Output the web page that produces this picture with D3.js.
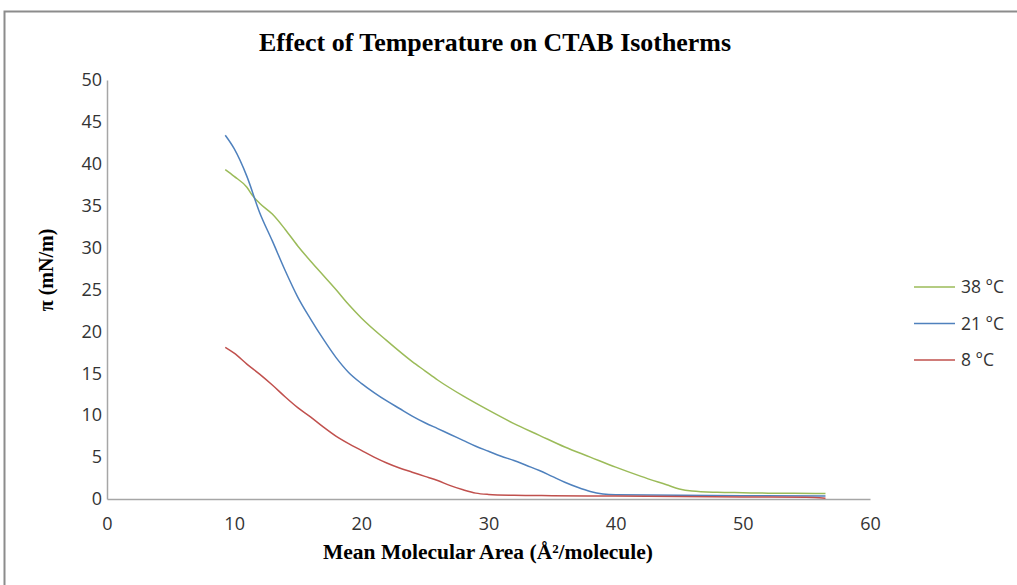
<!DOCTYPE html>
<html>
<head>
<meta charset="utf-8">
<script src="https://cdn.jsdelivr.net/npm/d3@7.9.0/dist/d3.min.js"></script>
<style>
  body { margin: 0; background: #fff; }
  svg { display: block; }
</style>
</head>
<body>
<svg id="chart" width="1017" height="585"></svg>
<script>
// values
const area38 = [9.3, 10, 11, 11.4, 12, 13, 14, 15, 16, 17, 18, 19, 20, 22, 24, 25, 26, 28, 30, 32, 34, 36, 38, 40, 42, 44, 45, 46, 48, 50, 52, 54, 56.5];
const pi38 = [39.3, 38.5, 37.2, 36.3, 35.3, 34.0, 32.2, 30.2, 28.4, 26.7, 25.0, 23.2, 21.6, 18.9, 16.4, 15.3, 14.2, 12.3, 10.6, 9.0, 7.6, 6.2, 5.0, 3.8, 2.7, 1.7, 1.2, 0.95, 0.8, 0.75, 0.7, 0.7, 0.65];

const area21 = [9.3, 10, 11, 12, 13, 14, 15, 16, 17, 18, 19, 20, 21, 22, 23, 24, 25, 26, 27, 28, 29, 30, 31, 32, 33, 34, 35, 36, 37, 38, 39, 40, 45, 50, 56.5];
const pi21 = [43.4, 41.8, 38.5, 34.2, 30.8, 27.3, 24.1, 21.5, 19.1, 16.9, 15.1, 13.8, 12.7, 11.7, 10.8, 9.9, 9.1, 8.4, 7.7, 7.0, 6.3, 5.7, 5.1, 4.6, 4.0, 3.4, 2.7, 2.0, 1.4, 0.9, 0.6, 0.5, 0.45, 0.4, 0.35];

const area8 = [9.3, 10, 11, 12, 13, 14, 15, 16, 17, 18, 19, 20, 21, 22, 23, 24, 25, 26, 27, 28, 29, 30, 32, 35, 40, 45, 50, 55, 56.5];
const pi8 = [18.1, 17.4, 16.1, 14.9, 13.6, 12.2, 10.9, 9.8, 8.6, 7.5, 6.6, 5.8, 5.0, 4.3, 3.7, 3.2, 2.7, 2.2, 1.6, 1.1, 0.7, 0.55, 0.45, 0.4, 0.35, 0.3, 0.25, 0.2, 0.1];

const seriesNames = ["38 °C", "21 °C", "8 °C"];
const seriesColors = ["#9bbb59", "#4f81bd", "#c0504d"];
const xTicks = [0, 10, 20, 30, 40, 50, 60];
const yTicks = [0, 5, 10, 15, 20, 25, 30, 35, 40, 45, 50];

const series = [
  { name: seriesNames[0], color: seriesColors[0], values: area38.map((a, i) => [a, pi38[i]]) },
  { name: seriesNames[1], color: seriesColors[1], values: area21.map((a, i) => [a, pi21[i]]) },
  { name: seriesNames[2], color: seriesColors[2], values: area8.map((a, i) => [a, pi8[i]]) }
];

const svg = d3.select("#chart");
const margin = { top: 80, left: 107 };
const width = 763, height = 419;

// outer chart frame (right and bottom edges fall outside the picture)
svg.append("rect")
  .attr("x", 4.5).attr("y", 11.5)
  .attr("width", 1030).attr("height", 600)
  .attr("fill", "none")
  .attr("stroke", "#8c8c8c")
  .attr("stroke-width", 2);

svg.append("text")
  .attr("x", 495).attr("y", 51)
  .attr("text-anchor", "middle")
  .attr("font-family", "'Liberation Serif', 'Times New Roman', serif")
  .attr("font-weight", "bold")
  .attr("font-size", 26)
  .attr("textLength", 472)
  .attr("lengthAdjust", "spacingAndGlyphs")
  .attr("fill", "#000")
  .text("Effect of Temperature on CTAB Isotherms");

const g = svg.append("g")
  .attr("transform", `translate(${margin.left},${margin.top})`);

const x = d3.scaleLinear().domain([0, 60]).range([0, width]);
const y = d3.scaleLinear().domain([0, 50]).range([height, 0]);

const xAxis = g.append("g")
  .attr("transform", `translate(0,${height})`)
  .call(d3.axisBottom(x).tickValues(xTicks).tickSize(0).tickPadding(18));

const yAxis = g.append("g")
  .call(d3.axisLeft(y).tickValues(yTicks).tickSize(0).tickPadding(5));

[xAxis, yAxis].forEach(ax => {
  ax.select(".domain").attr("stroke", "#a6a6a6").attr("stroke-width", 1.5);
  ax.selectAll("text")
    .attr("font-family", "'Open Sans', 'Liberation Sans', sans-serif")
    .attr("font-size", 18)
    .attr("fill", "#333");
});

const line = d3.line()
  .x(d => x(d[0]))
  .y(d => y(d[1]))
  .curve(d3.curveMonotoneX);

g.selectAll(".series")
  .data(series)
  .join("path")
  .attr("class", "series")
  .attr("fill", "none")
  .attr("stroke", d => d.color)
  .attr("stroke-width", 1.5)
  .attr("d", d => line(d.values));

// axis titles
svg.append("text")
  .attr("x", 488).attr("y", 559)
  .attr("text-anchor", "middle")
  .attr("font-family", "'Liberation Serif', 'Times New Roman', serif")
  .attr("font-weight", "bold")
  .attr("font-size", 21)
  .attr("textLength", 330)
  .attr("lengthAdjust", "spacingAndGlyphs")
  .text("Mean Molecular Area (Å²/molecule)");

svg.append("text")
  .attr("transform", "translate(53,270) rotate(-90)")
  .attr("text-anchor", "middle")
  .attr("font-family", "'Liberation Serif', 'Times New Roman', serif")
  .attr("font-weight", "bold")
  .attr("font-size", 20)
  .text("π (mN/m)");

// legend
const legend = svg.append("g").attr("transform", "translate(914,287)");
const rows = legend.selectAll("g")
  .data(series)
  .join("g")
  .attr("transform", (d, i) => `translate(0,${i * 36.5})`);
rows.append("line")
  .attr("x1", 0).attr("x2", 41)
  .attr("stroke", d => d.color)
  .attr("stroke-width", 1.5);
rows.append("text")
  .attr("x", 47).attr("dy", "0.35em")
  .attr("font-family", "'Open Sans', 'Liberation Sans', sans-serif")
  .attr("font-size", 17.5)
  .attr("fill", "#333")
  .text(d => d.name);
</script>
</body>
</html>
